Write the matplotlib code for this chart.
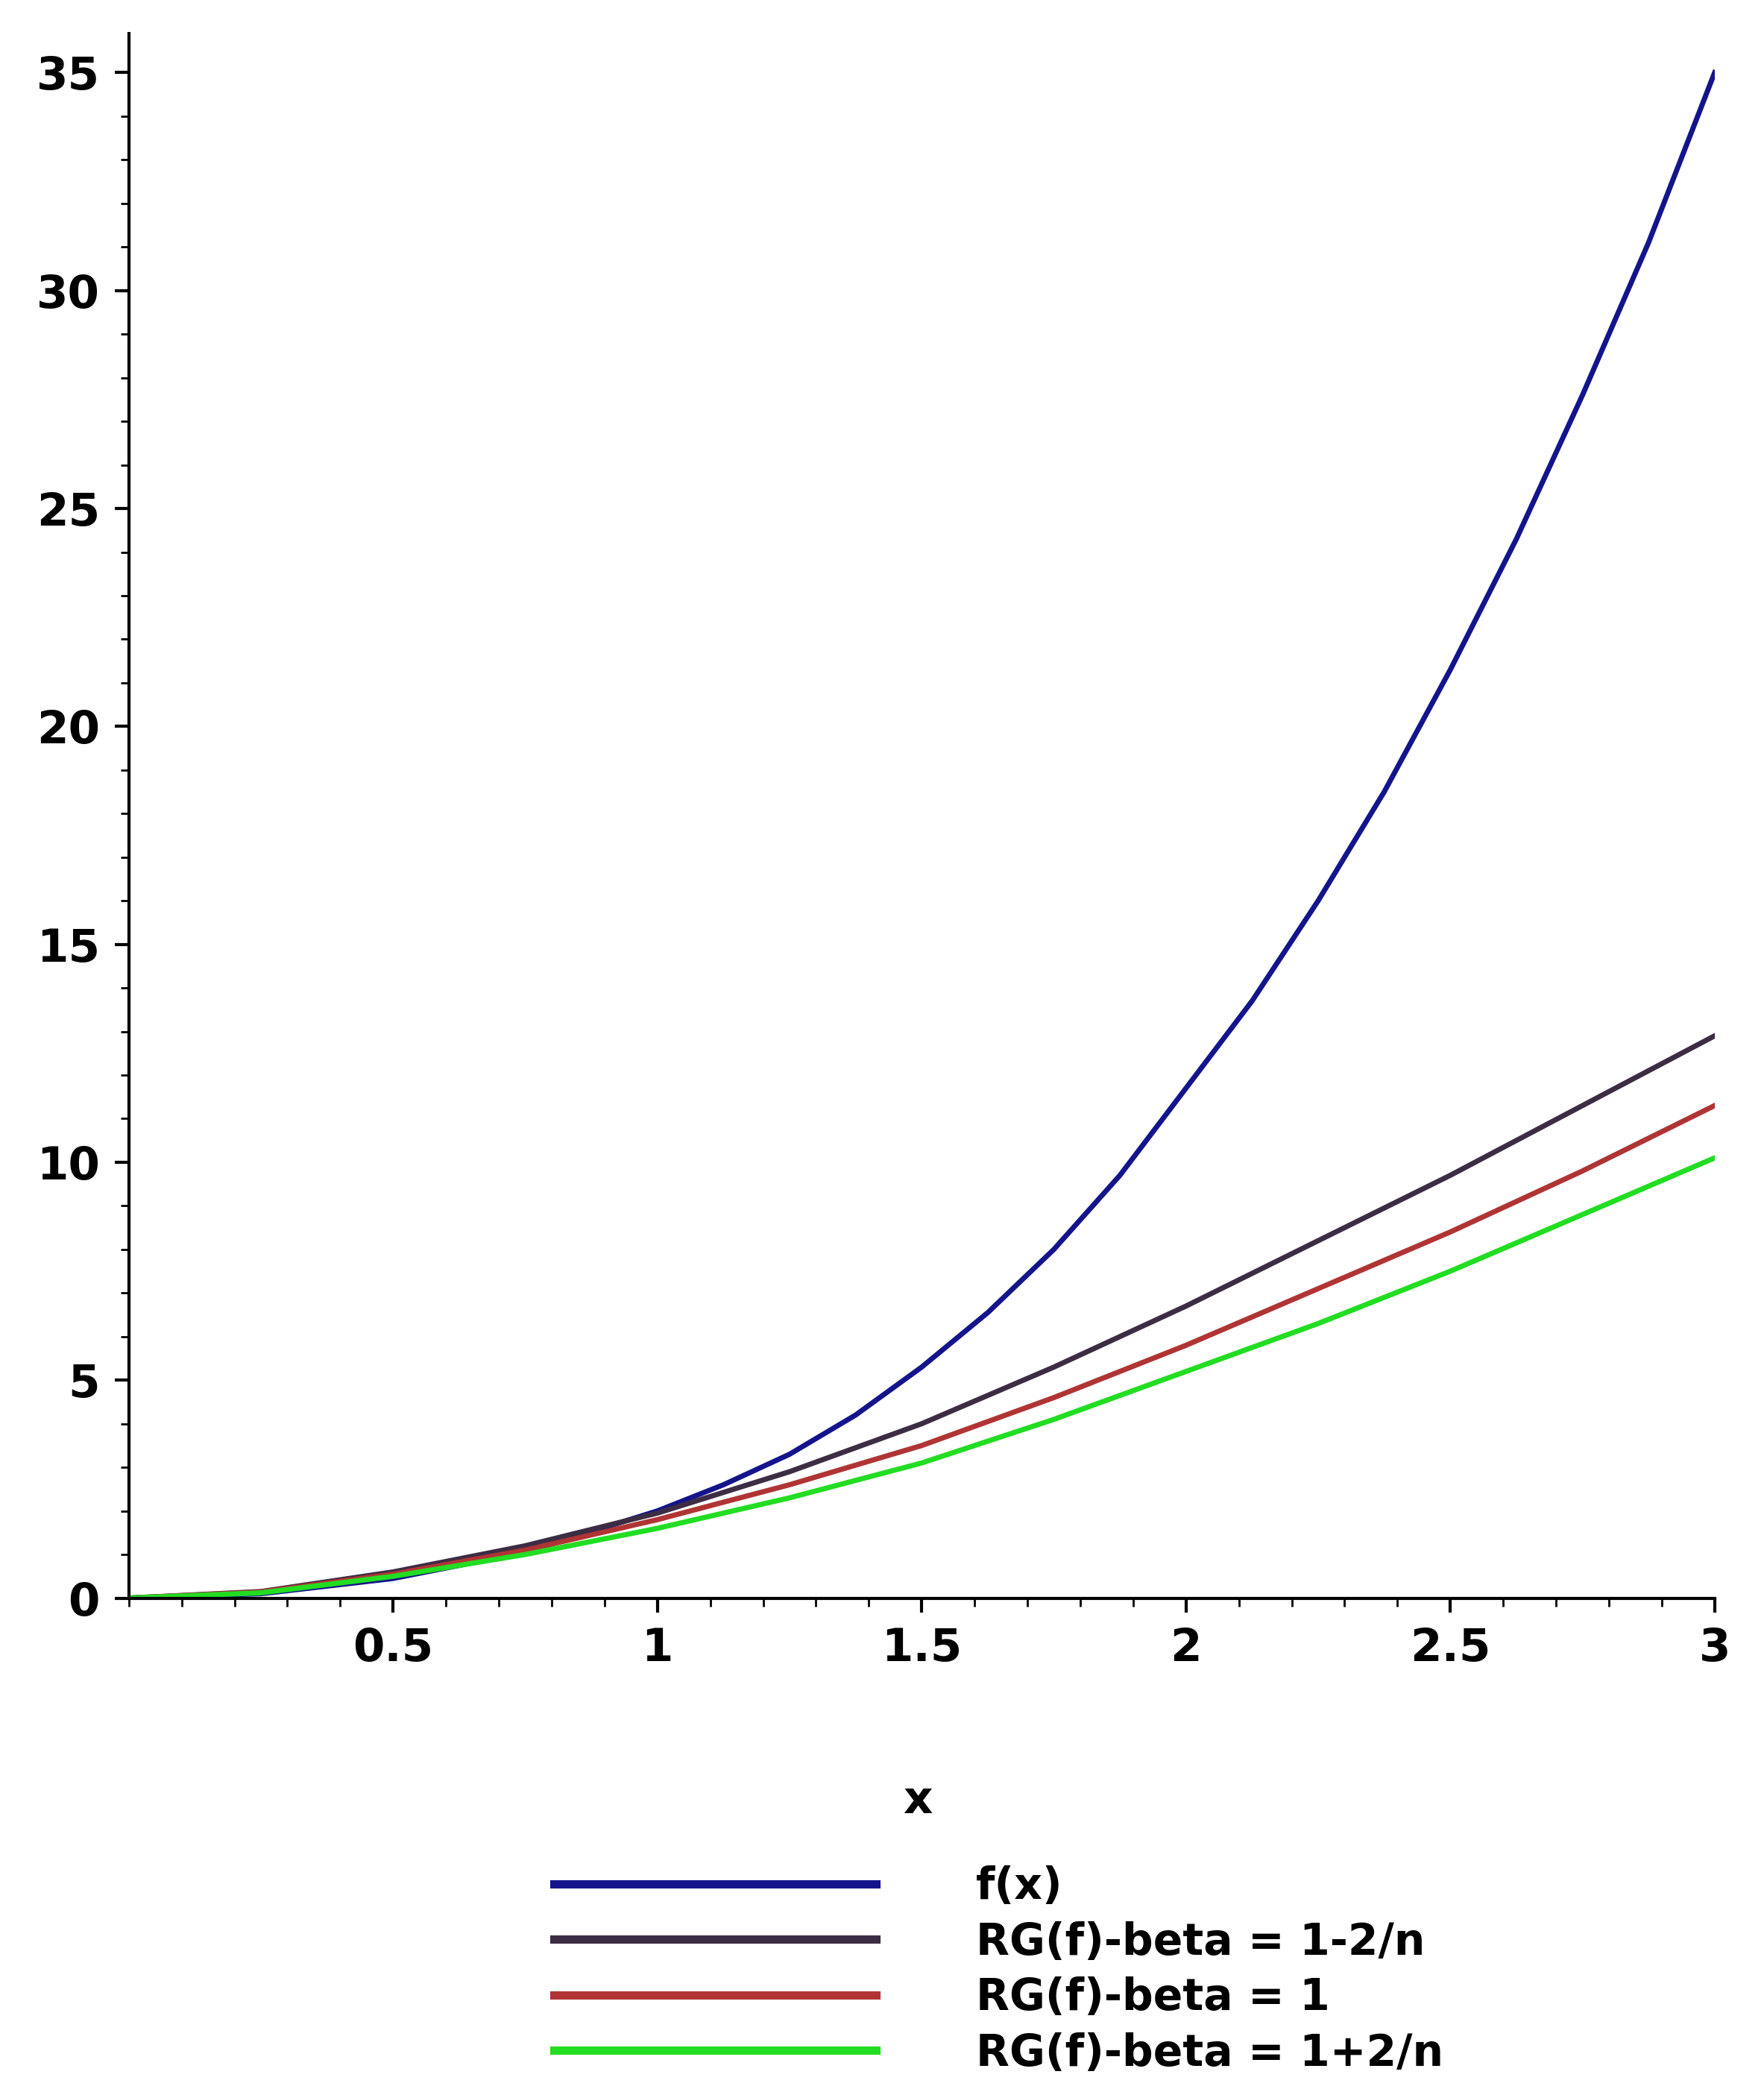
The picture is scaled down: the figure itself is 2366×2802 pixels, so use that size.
import matplotlib
matplotlib.use("Agg")
import matplotlib.pyplot as plt
from matplotlib.ticker import MultipleLocator

# values
x_f = [0, 0.25, 0.5, 0.75, 1.0, 1.125, 1.25, 1.375, 1.5, 1.625, 1.75, 1.875, 2.0,
       2.125, 2.25, 2.375, 2.5, 2.625, 2.75, 2.875, 3.0]
f_x = [0, 0.1, 0.45, 1.05, 2.0, 2.6, 3.3, 4.2, 5.3, 6.55, 8.0, 9.7, 11.7,
       13.7, 16.0, 18.5, 21.3, 24.3, 27.6, 31.1, 35.0]
x = [0, 0.25, 0.5, 0.75, 1.0, 1.25, 1.5, 1.75, 2.0, 2.25, 2.5, 2.75, 3.0]
beta_minus = [0, 0.15, 0.6, 1.2, 1.95, 2.9, 4.0, 5.3, 6.7, 8.2, 9.7, 11.3, 12.9]
beta_one = [0, 0.14, 0.55, 1.1, 1.8, 2.6, 3.5, 4.6, 5.8, 7.1, 8.4, 9.8, 11.3]
beta_plus = [0, 0.12, 0.5, 1.0, 1.6, 2.3, 3.1, 4.1, 5.2, 6.3, 7.5, 8.8, 10.1]

labels = ["f(x)", "RG(f)-beta = 1-2/n", "RG(f)-beta = 1", "RG(f)-beta = 1+2/n"]
colors = ["#14148c", "#3c2c44", "#b03434", "#22dd22"]

plt.rcParams["font.family"] = ["DejaVu Sans"]
plt.rcParams["font.weight"] = "bold"

fig = plt.figure(figsize=(23.66, 28.02), dpi=100)
ax = fig.add_axes([0.073, 0.235, 0.899, 0.749])

series = [(x_f, f_x), (x, beta_minus), (x, beta_one), (x, beta_plus)]
for (xs, ys), c, lab in zip(series, colors, labels):
    ax.plot(xs, ys, color=c, linewidth=5, label=lab, solid_joinstyle="round")

ax.set_xlim(0, 3)
ax.set_ylim(0, 35.9)
for s in ["top", "right"]:
    ax.spines[s].set_visible(False)
for s in ["left", "bottom"]:
    ax.spines[s].set_linewidth(3)

ax.xaxis.set_major_locator(MultipleLocator(0.5))
ax.xaxis.set_minor_locator(MultipleLocator(0.1))
ax.yaxis.set_major_locator(MultipleLocator(5))
ax.yaxis.set_minor_locator(MultipleLocator(1))
ax.tick_params(which="major", length=14, width=3, labelsize=44, pad=14)
ax.tick_params(which="minor", length=8, width=2)
ax.set_xticks([0.5, 1, 1.5, 2, 2.5, 3])
ax.set_xticklabels(["0.5", "1", "1.5", "2", "2.5", "3"], fontweight="bold")
ax.set_yticklabels([f"{int(v)}" for v in ax.get_yticks()], fontweight="bold")

fig.text(0.52, 0.138, "x", fontsize=44, fontweight="bold", ha="center", va="center")

leg = fig.legend(loc="upper left", bbox_to_anchor=(0.314, 0.107), frameon=False,
                 handlelength=7.4, handletextpad=2.3, labelspacing=0.3,
                 borderpad=0, borderaxespad=0, prop={"weight": "bold", "size": 42})
for h in leg.get_lines():
    h.set_linewidth(8)

fig.savefig("out.png", dpi=100, facecolor="white")
